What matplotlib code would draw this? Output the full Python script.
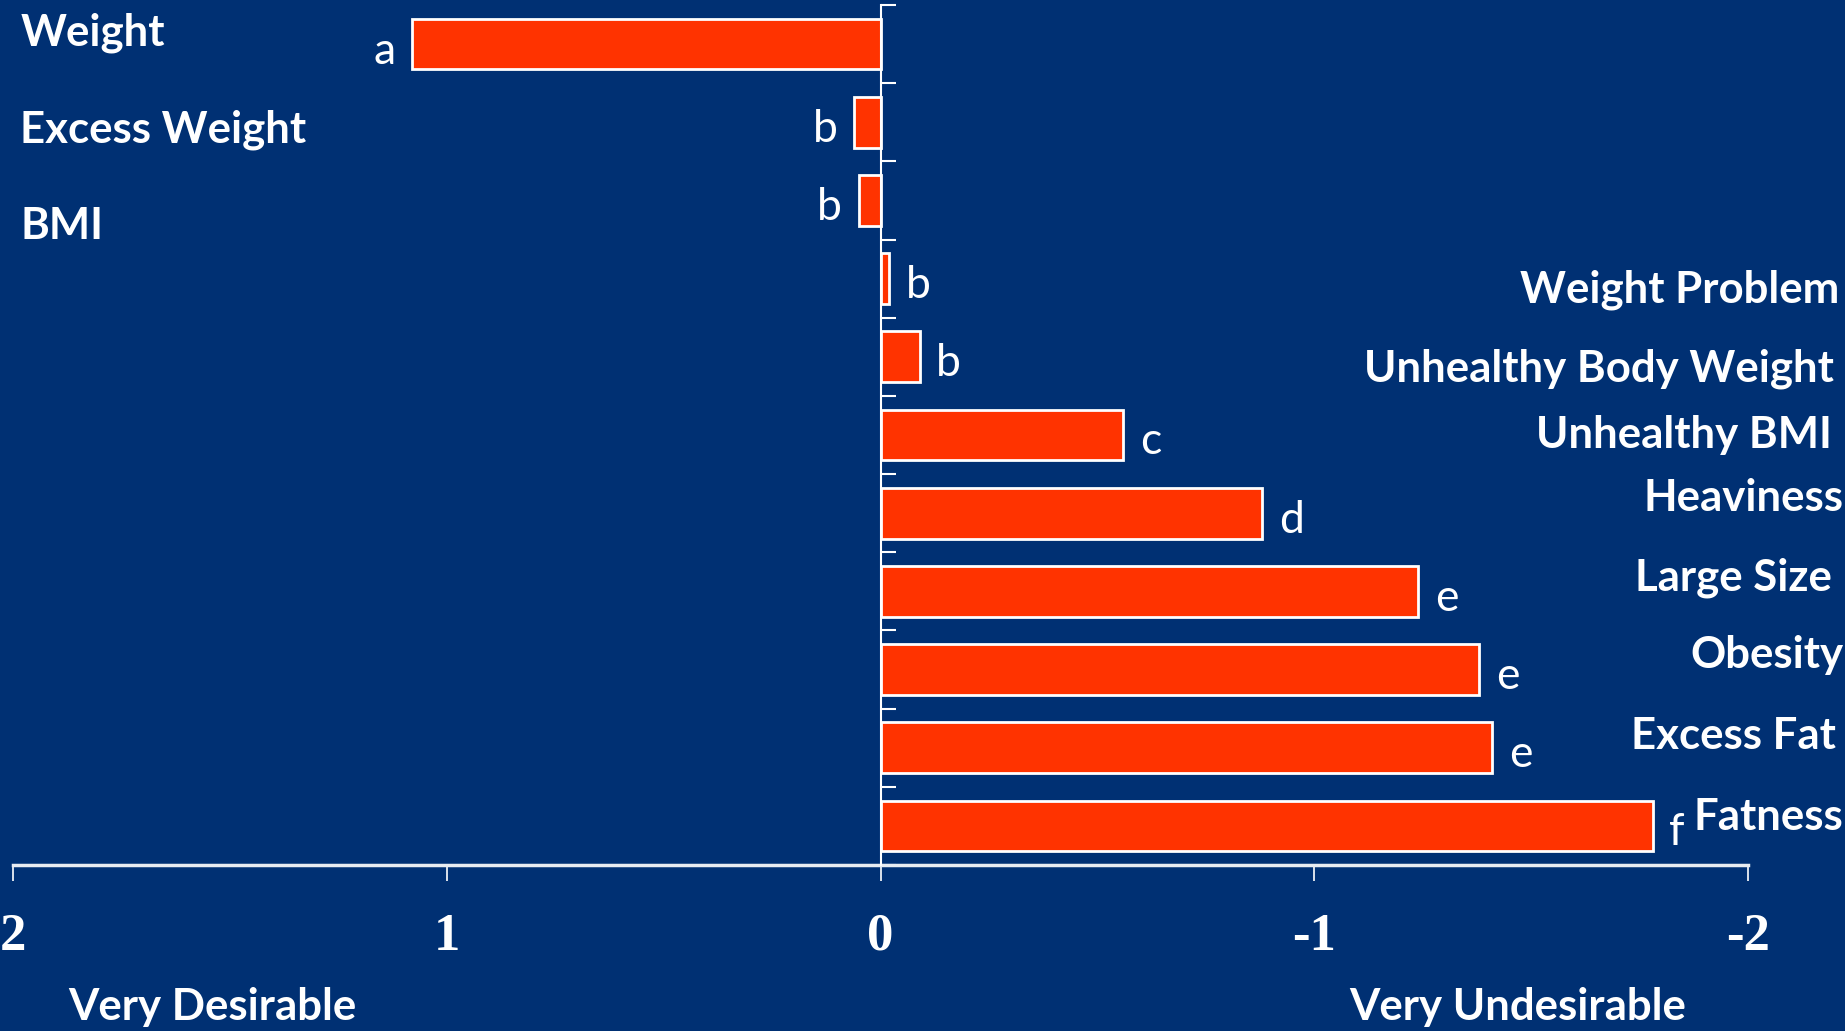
import numpy as np
import matplotlib
matplotlib.use("Agg")
from matplotlib import pyplot as plt
from matplotlib import transforms

# mean desirability ratings per term, with significance group letters
terms = ["Weight", "Excess Weight", "BMI", "Weight Problem",
         "Unhealthy Body Weight", "Unhealthy BMI", "Heaviness",
         "Large Size", "Obesity", "Excess Fat", "Fatness"]
ratings = [1.08, 0.06, 0.05, -0.02, -0.09, -0.56, -0.88,
           -1.24, -1.38, -1.41, -1.78]
groups = ["a", "b", "b", "b", "b", "c", "d", "e", "e", "e", "f"]
xticks = [2, 1, 0, -1, -2]

# label placement (figure x fraction, anchor, vertical nudge in slots)
label_x = [0.011, 0.011, 0.011, 0.997, 0.994, 0.993, 0.999,
           0.993, 0.999, 0.995, 0.999]
label_ha = ["left", "left", "left", "right", "right", "right", "right",
            "right", "right", "right", "right"]
label_dy = [-0.14, 0.09, 0.33, 0.14, 0.15, 0.0, -0.2,
            -0.18, -0.18, -0.15, -0.12]

bg = "#003073"
bar_col = "#ff3300"
lab_size = 31.5

fig = plt.figure(figsize=(18.45, 10.31), dpi=100, facecolor=bg)
ax = fig.add_axes([13/1845, 166/1031, (1748-13)/1845, (865-5)/1031])
ax.set_facecolor(bg)

y = np.arange(len(terms))
ax.barh(y, ratings, height=0.65, color=bar_col, edgecolor="white",
        linewidth=2, zorder=3)

ax.set_xlim(2, -2)
ax.set_ylim(len(terms) - 0.5, -0.5)

# zero line acts as the category axis
for s in ["top", "right"]:
    ax.spines[s].set_visible(False)
ax.spines["left"].set_position(("data", 0))
ax.spines["left"].set_color("white")
ax.spines["left"].set_linewidth(1.5)
ax.spines["left"].set_zorder(4)
ax.spines["bottom"].set_color("#e8ecf2")
ax.spines["bottom"].set_linewidth(2.5)

ax.set_yticks(np.arange(-0.5, len(terms)))
ax.set_yticklabels([])
ax.tick_params(axis="y", direction="in", length=11, width=1.5,
               color="white")

ax.set_xticks(xticks)
ax.set_xticklabels([str(t) for t in xticks])
ax.tick_params(axis="x", direction="out", length=11.5, width=1.2,
               color="white", pad=23, labelcolor="white")
for lab in ax.get_xticklabels():
    lab.set_fontfamily("Liberation Serif")
    lab.set_fontweight("bold")
    lab.set_fontsize(38)

# group letters beyond the end of each bar
for i, (v, g) in enumerate(zip(ratings, groups)):
    off = 12 if v < 0 else -12
    ax.annotate(g, (v, i), xytext=(off, -5), textcoords="offset points",
                ha="left" if v < 0 else "right", va="center",
                color="white", fontsize=32, fontfamily="Lato", zorder=5)

# term names
tr = transforms.blended_transform_factory(fig.transFigure, ax.transData)
for i, t in enumerate(terms):
    fig.text(label_x[i], i + label_dy[i], t, transform=tr,
             ha=label_ha[i], va="center", color="white", fontsize=lab_size,
             fontfamily="Lato", fontweight="bold")

# scale end captions
tc = transforms.blended_transform_factory(ax.transData, fig.transFigure)
fig.text(1.54, 1 - 1007/1031, "Very Desirable", transform=tc,
         ha="center", va="center", color="white", fontsize=lab_size,
         fontfamily="Lato", fontweight="bold")
fig.text(-1.47, 1 - 1007/1031, "Very Undesirable", transform=tc,
         ha="center", va="center", color="white", fontsize=lab_size,
         fontfamily="Lato", fontweight="bold")

fig.savefig("out.png", dpi=100, facecolor=bg)
